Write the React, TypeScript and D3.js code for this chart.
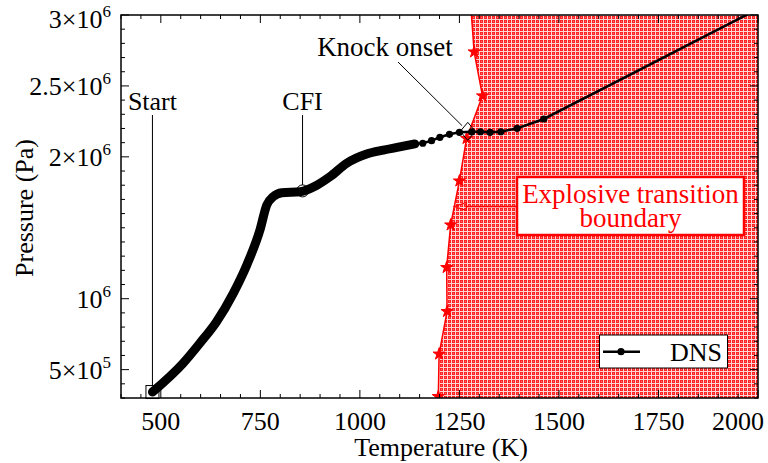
import React from "react";
import * as d3 from "d3";

// DNS trajectory, dense part (markers merge into a thick band)
const denseT = [479, 556, 598, 640, 682, 716, 749, 766, 782, 804, 850, 892, 925, 967, 1017, 1059, 1100, 1138];
const denseP = [3.42e5, 5.45e5, 6.86e5, 8.38e5, 1.038e6, 1.238e6, 1.484e6, 1.66e6, 1.719e6, 1.747e6, 1.754e6, 1.8e6, 1.86e6, 1.955e6, 2.02e6, 2.048e6, 2.07e6, 2.091e6];
// DNS trajectory, sparse part (single markers)
const sparseT = [1158, 1180, 1201, 1225, 1250, 1281, 1303, 1327, 1354, 1395, 1462, 2040];
const sparseP = [2.096e6, 2.114e6, 2.138e6, 2.159e6, 2.173e6, 2.177e6, 2.177e6, 2.173e6, 2.177e6, 2.201e6, 2.267e6, 3.1e6];

// explosive transition boundary
const boundaryT = [1197, 1199, 1219, 1218, 1228, 1250, 1268, 1308, 1287, 1279];
const boundaryP = [3.1e5, 6.1e5, 9.1e5, 1.22e6, 1.52e6, 1.83e6, 2.13e6, 2.43e6, 2.74e6, 3.05e6];

// annotated states
const startT = 479, startP = 3.42e5;
const cfiT = 856, cfiP = 1.76e6;
const knockT = 1271, knockP = 2.18e6;
const arrowP = 1.65e6;

const xTicks = [500, 750, 1000, 1250, 1500, 1750, 2000];
const yTickValues = [5e5, 1e6, 2e6, 2.5e6, 3e6];
const yTickMant = ["5×", "", "2×", "2.5×", "3×"];
const yTickExp = ["5", "6", "6", "6", "6"];

const W = 768, H = 463;
const L = 121, R = 758, T = 15, B = 398;
const FONT = "'Liberation Serif', 'Times New Roman', serif";

export default function App() {
  const x = d3.scaleLinear().domain([400, 2000]).range([L, R]);
  const y = d3.scaleLinear().domain([3e5, 3e6]).range([B, T]);

  const smooth = d3.line<[number, number]>().x(d => x(d[0])).y(d => y(d[1])).curve(d3.curveMonotoneX);
  const straight = d3.line<[number, number]>().x(d => x(d[0])).y(d => y(d[1]));
  const dense: [number, number][] = denseT.map((t, i) => [t, denseP[i]]);
  const sparse: [number, number][] = sparseT.map((t, i) => [t, sparseP[i]]);
  const tail = [dense[dense.length - 1]].concat(sparse);

  const bPts: [number, number][] = boundaryT.map((t, i) => [x(t), y(boundaryP[i])]);
  const fillPts: [number, number][] = [
    [bPts[0][0], B + 5],
    ...bPts,
    [R + 10, bPts[bPts.length - 1][1]],
    [R + 10, B + 5],
  ];
  const ay = y(arrowP);
  // boundary x at the arrow's height
  let tipX = bPts[0][0];
  for (let i = 0; i < bPts.length - 1; i++) {
    const [x0, y0] = bPts[i], [x1, y1] = bPts[i + 1];
    if ((ay - y0) * (ay - y1) <= 0) {
      tipX = x0 + ((ay - y0) / (y1 - y0)) * (x1 - x0);
      break;
    }
  }
  const star = d3.symbol().type(d3.symbolStar).size(45)();

  const xMinor = d3.range(400, 2001, 50);
  const yMinor = d3.range(3e5, 3e6 + 1, 1e5);

  const kx = x(knockT), ky = y(knockP);
  const kStart: [number, number] = [398, 62];
  const kd = Math.hypot(kx - kStart[0], ky - kStart[1]);
  const kEnd: [number, number] = [kx - ((kx - kStart[0]) / kd) * 8, ky - ((ky - kStart[1]) / kd) * 8];

  return (
    <svg width={W} height={H} style={{ position: "absolute", left: 0, top: 0, background: "#fff" }} fontFamily={FONT}>
      <defs>
        <clipPath id="plot">
          <rect x={L} y={T} width={R - L} height={B - T} />
        </clipPath>
        <pattern id="hatch" width={4} height={4} patternUnits="userSpaceOnUse">
          <rect width={4} height={4} fill="#ffd6d6" />
          <rect width={3} height={3} fill="#ff2222" />
          <rect x={1} y={1} width={1} height={1} fill="#ff7070" />
        </pattern>
      </defs>

      <g clipPath="url(#plot)">
        <path d={"M" + fillPts.map(p => p.join(",")).join("L") + "Z"} fill="url(#hatch)" />
        <path d={d3.line()(bPts) || ""} fill="none" stroke="#ff0000" strokeWidth={1.5} />
        {bPts.map((p, i) => (
          <path key={i} d={star} transform={`translate(${p[0]},${p[1]})`} fill="#ff0000" stroke="#ff0000" strokeWidth={1} />
        ))}

        <path d={smooth(dense) || ""} fill="none" stroke="#000" strokeWidth={9} strokeLinecap="round" strokeLinejoin="round" />
        <path d={straight(tail) || ""} fill="none" stroke="#000" strokeWidth={2.5} />
        {sparse.map((d, i) => (
          <circle key={i} cx={x(d[0])} cy={y(d[1])} r={3.6} fill="#000" />
        ))}
      </g>

      {/* annotations */}
      <text x={x(startT)} y={110} fontSize={26} textAnchor="middle">Start</text>
      <line x1={x(startT)} x2={x(startT)} y1={115} y2={y(startP) - 6.5} stroke="#000" strokeWidth={1} />
      <rect x={x(startT) - 6.5} y={y(startP) - 6.5} width={13} height={13} fill="none" stroke="#000" strokeWidth={1} />

      <text x={x(cfiT)} y={110} fontSize={26} textAnchor="middle">CFI</text>
      <line x1={x(cfiT)} x2={x(cfiT)} y1={115} y2={y(cfiP) - 6} stroke="#000" strokeWidth={1} />
      <circle cx={x(cfiT)} cy={y(cfiP)} r={6} fill="none" stroke="#000" strokeWidth={1} />

      <text x={385} y={56} fontSize={27} textAnchor="middle">Knock onset</text>
      <line x1={kStart[0]} y1={kStart[1]} x2={kEnd[0]} y2={kEnd[1]} stroke="#000" strokeWidth={1} />
      <path d={`M${kx - 7.5},${ky}L${kx},${ky - 9}L${kx + 7.5},${ky}L${kx},${ky + 9}Z`} fill="none" stroke="#000" strokeWidth={1} />

      {/* boundary label */}
      <line x1={tipX + 12} x2={517} y1={ay} y2={ay} stroke="#ff0000" strokeWidth={1.5} />
      <path d={`M${tipX},${ay}L${tipX + 12},${ay - 4}L${tipX + 12},${ay + 4}Z`} fill="none" stroke="#ff0000" strokeWidth={1.2} />
      <rect x={517} y={177} width={227} height={58} fill="#fff" stroke="#ff0000" strokeWidth={2.5} />
      <text x={630.5} y={203} fontSize={27} fill="#ff0000" textAnchor="middle">Explosive transition</text>
      <text x={630.5} y={227} fontSize={27} fill="#ff0000" textAnchor="middle">boundary</text>

      {/* legend */}
      <rect x={599.5} y={335} width={128} height={33} fill="#fff" stroke="#000" strokeWidth={1} />
      <line x1={603} x2={640} y1={351.7} y2={351.7} stroke="#000" strokeWidth={2.5} />
      <circle cx={621} cy={351.7} r={3.6} fill="#000" />
      <text x={670} y={361} fontSize={26}>DNS</text>

      {/* ticks */}
      {xMinor.map(v => {
        const major = xTicks.includes(v);
        const len = major ? 8 : 4;
        return (
          <g key={"x" + v} stroke="#000" strokeWidth={1}>
            <line x1={x(v)} x2={x(v)} y1={B} y2={B - len} />
            <line x1={x(v)} x2={x(v)} y1={T} y2={T + len} />
          </g>
        );
      })}
      {yMinor.map(v => {
        const major = yTickValues.some(t => Math.abs(t - v) < 1);
        const len = major ? 8 : 4;
        return (
          <g key={"y" + v} stroke="#000" strokeWidth={1}>
            <line x1={L} x2={L + len} y1={y(v)} y2={y(v)} />
            <line x1={R} x2={R - len} y1={y(v)} y2={y(v)} />
          </g>
        );
      })}
      <rect x={L} y={T} width={R - L} height={B - T} fill="none" stroke="#000" strokeWidth={1.5} />

      {/* tick labels */}
      {xTicks.map((v, i) => {
        const last = i === xTicks.length - 1;
        return (
          <text key={v} x={last ? 764 : x(v)} y={430} fontSize={26} textAnchor={last ? "end" : "middle"}>{v}</text>
        );
      })}
      {yTickValues.map((v, i) => (
        <text key={v} x={111} y={Math.max(y(v) + 9, 28)} fontSize={26} textAnchor="end">
          {yTickMant[i]}10<tspan fontSize={17} dy={-11}>{yTickExp[i]}</tspan>
        </text>
      ))}

      <text x={441} y={456} fontSize={26} textAnchor="middle">Temperature (K)</text>
      <text transform={`translate(33,208) rotate(-90)`} fontSize={26} textAnchor="middle">Pressure (Pa)</text>
    </svg>
  );
}
